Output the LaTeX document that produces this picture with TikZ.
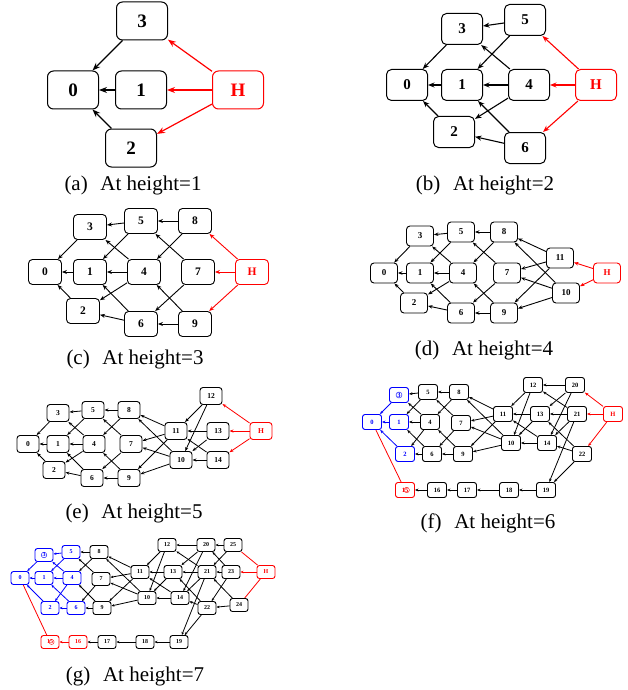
\documentclass[tikz,border=0pt]{standalone}
\usepackage{fontspec}
\setmainfont{Liberation Serif}
\usetikzlibrary{arrows.meta,backgrounds}
\tikzset{
  captxt/.style={font=\fontsize{21}{21}\selectfont, inner sep=0pt},
  panel/.style n args={8}{
    nb/.style={draw, fill=white, rounded corners=#4, minimum width=#1, minimum height=#2, inner sep=0pt, line width=#5, font=\fontsize{#3}{#3}\selectfont\bfseries},
    rn/.style={nb, draw=red, text=red},
    bn/.style={nb, draw=blue, text=blue},
    ed/.style={line width=#6, -{Stealth[length=#7,width=#8]}},
    er/.style={ed, red},
    eb/.style={ed, blue},
    ln/.style={line width=#6},
    lr/.style={line width=#6, red}
  }
}
\begin{document}
\begin{tikzpicture}[x=1pt,y=-1pt]
\useasboundingbox (0,0) rectangle (627,690);

% ---------- (a)
\begin{scope}[panel={51pt}{38pt}{19}{6pt}{1pt}{1.2pt}{8pt}{6pt}]
\node[nb] (a3) at (142,21) {3};
\node[nb] (a0) at (73,90) {0};
\node[nb] (a1) at (141,90) {1};
\node[rn] (aH) at (238,90) {H};
\node[nb] (a2) at (131,148) {2};
\draw[ed] (a3) -- (a0); \draw[ed] (a1) -- (a0); \draw[ed] (a2) -- (a0);
\draw[er] (aH) -- (a3); \draw[er] (aH) -- (a1); \draw[er] (aH) -- (a2);
\node[captxt] (capa) at (133,185) {(a)\hspace{0.35em} At height=1};
\end{scope}

% ---------- (b)
\begin{scope}[panel={41pt}{31pt}{15}{5pt}{1pt}{1.1pt}{6.5pt}{5pt}]
\node[nb] (b3) at (462,29) {3};
\node[nb] (b5) at (525,20) {5};
\node[nb] (b0) at (407,85) {0};
\node[nb] (b1) at (462,85) {1};
\node[nb] (b4) at (529,85) {4};
\node[rn] (bH) at (596,85) {H};
\node[nb] (b2) at (454,132) {2};
\node[nb] (b6) at (525,148) {6};
\begin{scope}[on background layer]
\draw[ed] (b3) -- (b0); \draw[ed] (b1) -- (b0); \draw[ed] (b2) -- (b0);
\draw[ed] (b5) -- (b3); \draw[ed] (b5) -- (b1); \draw[ed] (b4) -- (b3);
\draw[ed] (b4) -- (b1); \draw[ed] (b4) -- (b2); \draw[ed] (b6) -- (b2);
\draw[ed] (b6) -- (b1);
\draw[er] (bH) -- (b5); \draw[er] (bH) -- (b4); \draw[er] (bH) -- (b6);
\end{scope}
\node[captxt] (capb) at (485,185) {(b)\hspace{0.35em} At height=2};
\end{scope}

% ---------- (c)
\begin{scope}[panel={33pt}{25pt}{11.5}{4pt}{0.9pt}{0.9pt}{5pt}{4pt}]
\node[nb] (c3) at (90,227) {3};
\node[nb] (c5) at (141,221) {5};
\node[nb] (c8) at (195,221) {8};
\node[nb] (c0) at (45,272) {0};
\node[nb] (c1) at (90,272) {1};
\node[nb] (c4) at (144,272) {4};
\node[nb] (c7) at (198,272) {7};
\node[rn] (cH) at (252,272) {H};
\node[nb] (c2) at (83,311) {2};
\node[nb] (c6) at (141,324) {6};
\node[nb] (c9) at (195,324) {9};
\begin{scope}[on background layer]
\draw[ed] (c3) -- (c0); \draw[ed] (c1) -- (c0); \draw[ed] (c2) -- (c0);
\draw[ed] (c4) -- (c3); \draw[ed] (c4) -- (c1); \draw[ed] (c4) -- (c2);
\draw[ed] (c5) -- (c3); \draw[ed] (c5) -- (c1); \draw[ed] (c6) -- (c2);
\draw[ed] (c6) -- (c1); \draw[ed] (c8) -- (c5); \draw[ed] (c8) -- (c4);
\draw[ed] (c7) -- (c5); \draw[ed] (c7) -- (c6); \draw[ed] (c9) -- (c6);
\draw[ed] (c9) -- (c4);
\draw[er] (cH) -- (c8); \draw[er] (cH) -- (c7); \draw[er] (cH) -- (c9);
\end{scope}
\node[captxt] (capc) at (135,359) {(c)\hspace{0.35em} At height=3};
\end{scope}

% ---------- (d)
\begin{scope}[panel={27pt}{20pt}{9}{3.5pt}{0.9pt}{0.9pt}{4.5pt}{3.5pt}]
\node[nb] (d3) at (420,236) {3};
\node[nb] (d5) at (461,232) {5};
\node[nb] (d8) at (504,232) {8};
\node[nb] (d0) at (384,273) {0};
\node[nb] (d1) at (420,273) {1};
\node[nb] (d4) at (463,273) {4};
\node[nb] (d7) at (507,273) {7};
\node[nb] (d11) at (560,258) {11};
\node[rn] (dH) at (607,273) {H};
\node[nb] (d10) at (566,293) {10};
\node[nb] (d2) at (414,303) {2};
\node[nb] (d6) at (461,313) {6};
\node[nb] (d9) at (504,313) {9};
\begin{scope}[on background layer]
\draw[ed] (d3) -- (d0); \draw[ed] (d1) -- (d0); \draw[ed] (d2) -- (d0);
\draw[ed] (d4) -- (d3); \draw[ed] (d4) -- (d1); \draw[ed] (d4) -- (d2);
\draw[ed] (d5) -- (d3); \draw[ed] (d5) -- (d1); \draw[ed] (d6) -- (d2);
\draw[ed] (d6) -- (d1); \draw[ed] (d8) -- (d5); \draw[ed] (d8) -- (d4);
\draw[ed] (d7) -- (d5); \draw[ed] (d7) -- (d6); \draw[ed] (d9) -- (d6);
\draw[ed] (d9) -- (d4);
\draw[ed] (d11) -- (d8); \draw[ed] (d11) -- (d7); \draw[ed] (d11) -- (d9);
\draw[ed] (d10) -- (d8); \draw[ed] (d10) -- (d7); \draw[ed] (d10) -- (d9);
\draw[er] (dH) -- (d11); \draw[er] (dH) -- (d10);
\end{scope}
\node[captxt] (capd) at (484,350) {(d)\hspace{0.35em} At height=4};
\end{scope}

% ---------- (e)
\begin{scope}[panel={22pt}{17pt}{7.5}{3pt}{0.9pt}{0.8pt}{4pt}{3pt}]
\node[nb] (e3) at (58,413) {3};
\node[nb] (e5) at (93,410) {5};
\node[nb] (e8) at (129,410) {8};
\node[nb] (e0) at (28,444) {0};
\node[nb] (e1) at (58,444) {1};
\node[nb] (e4) at (94,444) {4};
\node[nb] (e7) at (131,444) {7};
\node[nb] (e2) at (54,470) {2};
\node[nb] (e6) at (92,478) {6};
\node[nb] (e9) at (129,478) {9};
\node[nb] (e12) at (211,396) {12};
\node[nb] (e11) at (176,431) {11};
\node[nb] (e13) at (218,431) {13};
\node[rn] (eH) at (261,431) {H};
\node[nb] (e10) at (181,460) {10};
\node[nb] (e14) at (218,460) {14};
\begin{scope}[on background layer]
\draw[ed] (e3) -- (e0); \draw[ed] (e1) -- (e0); \draw[ed] (e2) -- (e0);
\draw[ed] (e4) -- (e3); \draw[ed] (e4) -- (e1); \draw[ed] (e4) -- (e2);
\draw[ed] (e5) -- (e3); \draw[ed] (e5) -- (e1); \draw[ed] (e6) -- (e2);
\draw[ed] (e6) -- (e1); \draw[ed] (e8) -- (e5); \draw[ed] (e8) -- (e4);
\draw[ed] (e7) -- (e5); \draw[ed] (e7) -- (e6); \draw[ed] (e9) -- (e6);
\draw[ed] (e9) -- (e4);
\draw[ed] (e11) -- (e8); \draw[ed] (e11) -- (e7); \draw[ed] (e11) -- (e9);
\draw[ed] (e10) -- (e8); \draw[ed] (e10) -- (e7); \draw[ed] (e10) -- (e9);
\draw[ed] (e12) -- (e11); \draw[ed] (e12) -- (e10);
\draw[ed] (e13) -- (e11); \draw[ed] (e13) -- (e10);
\draw[ed] (e14) -- (e11); \draw[ed] (e14) -- (e10);
\draw[er] (eH) -- (e12); \draw[er] (eH) -- (e13); \draw[er] (eH) -- (e14);
\end{scope}
\node[captxt] (cape) at (134,513) {(e)\hspace{0.35em} At height=5};
\end{scope}

% ---------- (f)
\begin{scope}[panel={19pt}{15pt}{6.5}{2.5pt}{0.9pt}{0.8pt}{3.5pt}{2.8pt}]
\node[bn] (f3) at (399,395) {3};
\draw[blue, line width=0.4pt] (f3.center) circle (3pt);
\node[nb] (f5) at (428,392) {5};
\node[nb] (f8) at (459,392) {8};
\node[bn] (f0) at (372,422) {0};
\node[bn] (f1) at (399,422) {1};
\node[nb] (f4) at (430,422) {4};
\node[nb] (f7) at (461,423) {7};
\node[nb] (f11) at (503,414) {11};
\node[nb] (f13) at (540,414) {13};
\node[nb] (f21) at (577,414) {21};
\node[rn] (fH) at (613,414) {H};
\node[nb] (f12) at (533,385) {12};
\node[nb] (f20) at (575,385) {20};
\node[nb] (f10) at (511,443) {10};
\node[nb] (f14) at (547,443) {14};
\node[nb] (f22) at (582,454) {22};
\node[bn] (f2) at (405,454) {2};
\node[nb] (f6) at (432,454) {6};
\node[nb] (f9) at (463,454) {9};
\node[rn] (f15) at (405,490) {15};
\draw[red, line width=0.4pt] ([xshift=1.7pt]f15.center) circle (2.7pt);
\node[nb] (f16) at (437,490) {16};
\node[nb] (f17) at (467,490) {17};
\node[nb] (f18) at (509,490) {18};
\node[nb] (f19) at (546,490) {19};
\begin{scope}[on background layer]
\draw[eb] (f3) -- (f0); \draw[eb] (f1) -- (f0); \draw[eb] (f2) -- (f0);
\draw[ed] (f4) -- (f3); \draw[ed] (f4) -- (f1); \draw[ed] (f4) -- (f2);
\draw[ed] (f5) -- (f3); \draw[ed] (f5) -- (f1); \draw[ed] (f6) -- (f2);
\draw[ed] (f6) -- (f1); \draw[ed] (f8) -- (f5); \draw[ed] (f8) -- (f4);
\draw[ed] (f7) -- (f5); \draw[ed] (f7) -- (f6); \draw[ed] (f9) -- (f6);
\draw[ed] (f9) -- (f4);
\draw[ed] (f11) -- (f8); \draw[ed] (f11) -- (f7); \draw[ed] (f11) -- (f9);
\draw[ed] (f10) -- (f8); \draw[ed] (f10) -- (f7); \draw[ed] (f10) -- (f9);
\draw[ed] (f12) -- (f11); \draw[ed] (f12) -- (f10);
\draw[ed] (f13) -- (f11); \draw[ed] (f13) -- (f10);
\draw[ed] (f14) -- (f11); \draw[ed] (f14) -- (f10);
\draw[ed] (f20) -- (f12); \draw[ed] (f20) -- (f13); \draw[ed] (f20) -- (f14);
\draw[ed] (f21) -- (f13); \draw[ed] (f21) -- (f14); \draw[ed] (f21) -- (f19);
\draw[ed] (f21) -- (f12);
\draw[ed] (f22) -- (f14); \draw[ed] (f22) -- (f19); \draw[ed] (f22) -- (f13);
\draw[ed] (f19) -- (f18); \draw[ed] (f18) -- (f17); \draw[ed] (f17) -- (f16);
\draw[ed] (f16) -- (f15);
\draw[lr] (f0) -- (f15);
\draw[er] (fH) -- (f20); \draw[er] (fH) -- (f21); \draw[er] (fH) -- (f22);
\end{scope}
\node[captxt] (capf) at (488,523) {(f)\hspace{0.35em} At height=6};
\end{scope}

% ---------- (g)
\begin{scope}[panel={18pt}{13pt}{6}{2.5pt}{0.9pt}{0.8pt}{3pt}{2.5pt}]
\node[bn] (g3) at (44,555) {3};
\draw[blue, line width=0.4pt] (g3.center) circle (2.8pt);
\node[bn] (g5) at (71,552) {5};
\node[nb] (g8) at (99,552) {8};
\node[bn] (g0) at (20,578) {0};
\node[bn] (g1) at (44,578) {1};
\node[bn] (g4) at (72,578) {4};
\node[nb] (g7) at (101,579) {7};
\node[bn] (g2) at (50,608) {2};
\node[bn] (g6) at (76,608) {6};
\node[nb] (g9) at (102,608) {9};
\node[nb] (g11) at (140,572) {11};
\node[nb] (g13) at (173,572) {13};
\node[nb] (g21) at (207,572) {21};
\node[nb] (g23) at (231,572) {23};
\node[rn] (gH) at (266,572) {H};
\node[nb] (g12) at (167,545) {12};
\node[nb] (g20) at (206,545) {20};
\node[nb] (g25) at (233,545) {25};
\node[nb] (g10) at (147,598) {10};
\node[nb] (g14) at (180,598) {14};
\node[nb] (g22) at (207,608) {22};
\node[nb] (g24) at (239,605) {24};
\node[rn] (g15) at (50,642) {15};
\draw[red, line width=0.4pt] ([xshift=1.6pt]g15.center) circle (2.5pt);
\node[rn] (g16) at (78,642) {16};
\node[nb] (g17) at (107,642) {17};
\node[nb] (g18) at (145,642) {18};
\node[nb] (g19) at (179,642) {19};
\begin{scope}[on background layer]
\draw[eb] (g3) -- (g0); \draw[eb] (g1) -- (g0); \draw[eb] (g2) -- (g0);
\draw[eb] (g4) -- (g3); \draw[eb] (g4) -- (g1); \draw[eb] (g4) -- (g2);
\draw[eb] (g5) -- (g3); \draw[eb] (g5) -- (g1); \draw[eb] (g6) -- (g2);
\draw[eb] (g6) -- (g1); \draw[ed] (g8) -- (g5); \draw[ed] (g8) -- (g4);
\draw[ed] (g7) -- (g5); \draw[ed] (g7) -- (g6); \draw[ed] (g9) -- (g6);
\draw[ed] (g9) -- (g4);
\draw[ed] (g11) -- (g8); \draw[ed] (g11) -- (g7); \draw[ed] (g11) -- (g9);
\draw[ed] (g10) -- (g8); \draw[ed] (g10) -- (g7); \draw[ed] (g10) -- (g9);
\draw[ed] (g12) -- (g11); \draw[ed] (g12) -- (g10);
\draw[ed] (g13) -- (g11); \draw[ed] (g13) -- (g10);
\draw[ed] (g14) -- (g11); \draw[ed] (g14) -- (g10);
\draw[ed] (g20) -- (g12); \draw[ed] (g20) -- (g13); \draw[ed] (g20) -- (g14);
\draw[ed] (g21) -- (g13); \draw[ed] (g21) -- (g14); \draw[ed] (g21) -- (g19);
\draw[ed] (g21) -- (g12);
\draw[ed] (g22) -- (g14); \draw[ed] (g22) -- (g19); \draw[ed] (g22) -- (g13);
\draw[ed] (g25) -- (g20); \draw[ed] (g25) -- (g21);
\draw[ed] (g23) -- (g21); \draw[ed] (g23) -- (g22); \draw[ed] (g23) -- (g20);
\draw[ed] (g24) -- (g22); \draw[ed] (g24) -- (g21);
\draw[ed] (g19) -- (g18); \draw[ed] (g18) -- (g17); \draw[ed] (g17) -- (g16);
\draw[er] (g16) -- (g15);
\draw[lr] (g0) -- (g15);
\draw[lr] (gH) -- (g25); \draw[er] (gH) -- (g23); \draw[lr] (gH) -- (g24);
\end{scope}
\node[captxt] (capg) at (135,676) {(g)\hspace{0.35em} At height=7};
\end{scope}
\end{tikzpicture}
\end{document}
